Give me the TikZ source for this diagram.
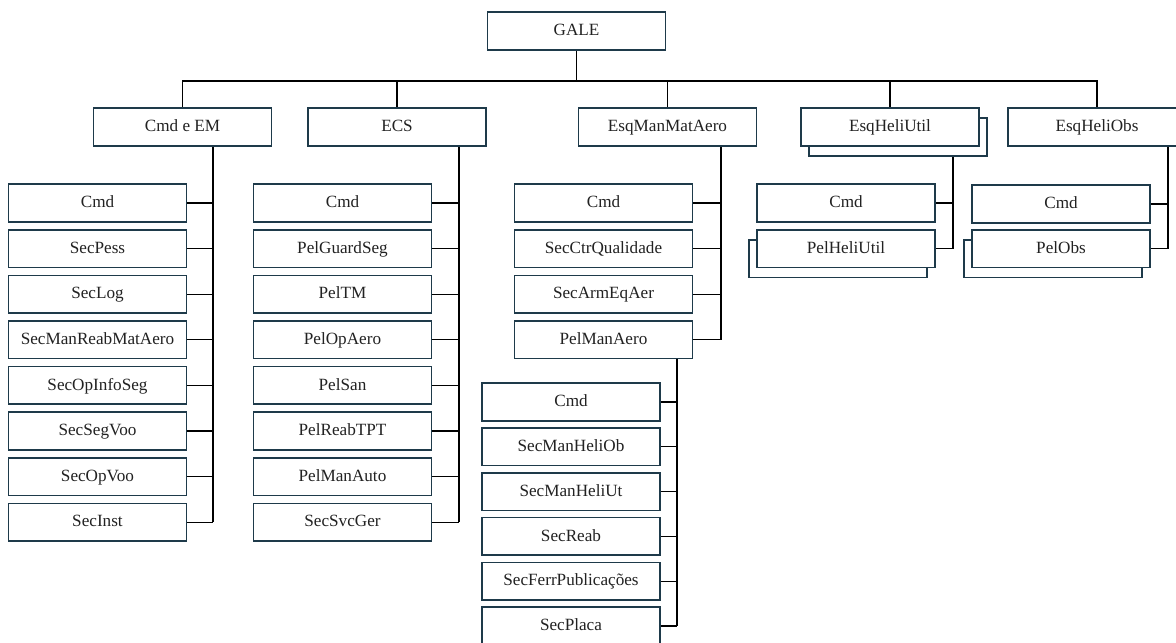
\documentclass[tikz,border=0pt]{standalone}
\usepackage{fontspec}
\setmainfont{Liberation Serif}
\usepackage{xcolor}
\definecolor{galeBorder}{HTML}{1E3A4A}
\definecolor{galeText}{HTML}{222222}
\usetikzlibrary{shadows,backgrounds}
\tikzset{
    unit/.style={
        draw=galeBorder,
        fill=white,
        rectangle,
        line width=1.1pt,
        minimum width=4.45cm,
        minimum height=0.94cm,
        inner sep=0pt,
        text height=1.9ex,
        text depth=0.45ex,
        text=galeText,
        font=\fontsize{12.2}{14}\selectfont
    },
    stackR/.style={
        unit,
        copy shadow={shadow xshift=0.2cm, shadow yshift=-0.25cm,
            draw=galeBorder, fill=white, line width=1.1pt}
    },
    stackL/.style={
        unit,
        copy shadow={shadow xshift=-0.2cm, shadow yshift=-0.25cm,
            draw=galeBorder, fill=white, line width=1.1pt}
    },
    link/.style={
        draw=black,
        line width=0.9pt
    }
}
\begin{document}
\begin{tikzpicture}[x=0.025cm, y=-0.025cm]
    \useasboundingbox (0,0) rectangle (1176,643);

    % top
    \node[unit] (gale) at (576.5,31) {GALE};
    \coordinate (bus) at (576.5,81);

    % first level
    \node[unit] (cmdem) at (182.5,127) {Cmd e EM};
    \node[unit] (ecs) at (397,127) {ECS};
    \node[unit] (esqman) at (667.5,127) {EsqManMatAero};
    \node[stackR] (esqutil) at (890,127) {EsqHeliUtil};
    \node[unit] (esqobs) at (1097,127) {EsqHeliObs};

    % Cmd e EM
    \coordinate (emspine) at (213,0);
    \foreach \lbl [count=\i from 0] in {Cmd,SecPess,SecLog,SecManReabMatAero,SecOpInfoSeg,SecSegVoo,SecOpVoo,SecInst}
        \node[unit] (em\i) at (97.5,203+45.6*\i) {\lbl};

    % ECS
    \coordinate (ecsspine) at (459,0);
    \foreach \lbl [count=\i from 0] in {Cmd,PelGuardSeg,PelTM,PelOpAero,PelSan,PelReabTPT,PelManAuto,SecSvcGer}
        \node[unit] (ecs\i) at (342.5,203+45.6*\i) {\lbl};

    % EsqManMatAero
    \coordinate (manspine) at (721,0);
    \foreach \lbl [count=\i from 0] in {Cmd,SecCtrQualidade,SecArmEqAer,PelManAero}
        \node[unit] (man\i) at (603.5,203+45.6*\i) {\lbl};

    % PelManAero
    \coordinate (pelspine) at (677,0);
    \foreach \lbl [count=\i from 0] in {Cmd,SecManHeliOb,SecManHeliUt,SecReab,SecFerrPublicações,SecPlaca}
        \node[unit] (pel\i) at (571,402+44.8*\i) {\lbl};

    % EsqHeliUtil
    \coordinate (utilspine) at (953,0);
    \node[unit] (util0) at (846,203) {Cmd};
    \node[stackL] (util1) at (846,248.6) {PelHeliUtil};

    % EsqHeliObs
    \coordinate (obsspine) at (1168,0);
    \node[unit] (obs0) at (1061,204) {Cmd};
    \node[stackL] (obs1) at (1061,248.6) {PelObs};

    \begin{scope}[on background layer]
        \draw[link] (gale) -- (bus);
        \draw[link] (cmdem.north) |- (esqobs.north |- bus) -- (esqobs.north);
        \foreach \n in {ecs,esqman,esqutil}
            \draw[link] (\n.north) -- (\n.north |- bus);

        \draw[link] (cmdem.south -| emspine) -- (em7.east -| emspine);
        \foreach \i in {0,...,7}
            \draw[link] (em\i.east) -- (em\i.east -| emspine);

        \draw[link] (ecs.south -| ecsspine) -- (ecs7.east -| ecsspine);
        \foreach \i in {0,...,7}
            \draw[link] (ecs\i.east) -- (ecs\i.east -| ecsspine);

        \draw[link] (esqman.south -| manspine) -- (man3.east -| manspine);
        \foreach \i in {0,...,3}
            \draw[link] (man\i.east) -- (man\i.east -| manspine);

        \draw[link] (man3.south -| pelspine) -- (pel5.east -| pelspine);
        \foreach \i in {0,...,5}
            \draw[link] (pel\i.east) -- (pel\i.east -| pelspine);

        \draw[link] (esqutil.south -| utilspine) -- (util1.east -| utilspine);
        \foreach \i in {0,1}
            \draw[link] (util\i.east) -- (util\i.east -| utilspine);

        \draw[link] (esqobs.south -| obsspine) -- (obs1.east -| obsspine);
        \foreach \i in {0,1}
            \draw[link] (obs\i.east) -- (obs\i.east -| obsspine);
    \end{scope}
\end{tikzpicture}
\end{document}
